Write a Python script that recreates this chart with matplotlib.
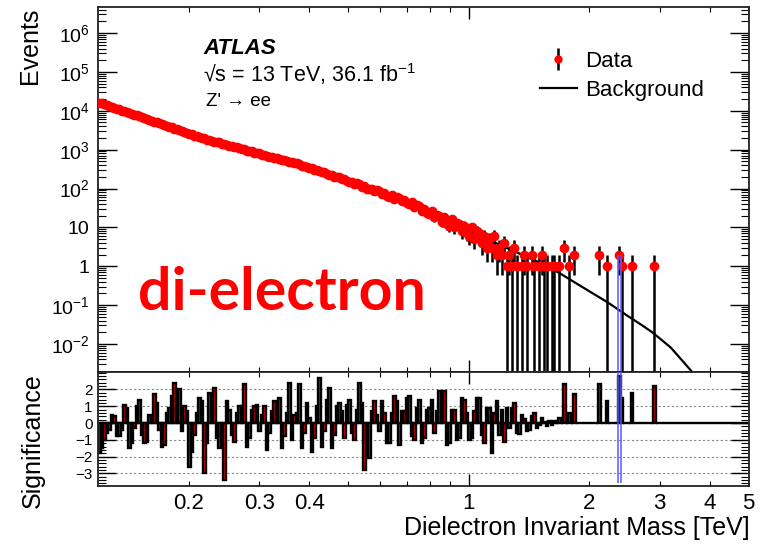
import numpy as np
import matplotlib
matplotlib.use("Agg")
import matplotlib.pyplot as plt
from matplotlib.ticker import FixedLocator, FixedFormatter, FuncFormatter, NullFormatter, LogLocator, AutoMinorLocator
from matplotlib.lines import Line2D

plt.rcParams['font.family'] = ['Liberation Sans', 'DejaVu Sans']
plt.rcParams['mathtext.fontset'] = 'custom'
plt.rcParams['mathtext.rm'] = 'Liberation Sans'
plt.rcParams['mathtext.it'] = 'Liberation Sans:italic'
plt.rcParams['mathtext.bf'] = 'Liberation Sans:bold'

# ---- histogram binning (constant width in log10 of the mass) ----
MASS_MIN_TEV = 0.1185
LOG_BIN_WIDTH = 0.00625
N_BINS = 260

# ---- observed events per bin ----
events = [
    16190, 15510, 14620, 14010,
    13180, 12660, 11890, 11410,
    10850, 10170, 9790, 9180,
    8720, 8410, 7860, 7590,
    7230, 6740, 6510, 6080,
    5790, 5600, 5210, 5050,
    4800, 4470, 4330, 4020,
    3830, 3720, 3450, 3360,
    3190, 2950, 2880, 2660,
    2530, 2480, 2280, 2230,
    2130, 1970, 1960, 1820,
    1730, 1710, 1590, 1580,
    1530, 1410, 1400, 1300,
    1250, 1250, 1160, 1150,
    1110, 1020, 1025, 945,
    915, 910, 840, 840,
    810, 745, 750, 690,
    665, 665, 610, 615,
    590, 545, 545, 500,
    482, 487, 446, 445,
    428, 390, 388, 350,
    340, 338, 305, 306,
    290, 260, 262, 233,
    224, 226, 200, 203,
    193, 171, 175, 154,
    147, 150, 131, 136,
    127, 111, 116, 100,
    96, 99, 85, 90,
    84, 72, 77, 65,
    62, 67, 55, 59,
    57, 47, 52, 42,
    39, 44, 33, 37,
    35, 27, 30, 23,
    22, 26, 18, 21,
    20, 14, 18, 12,
    11, 16, 10, 13,
    12, 8, 11, 7,
    6, 10, 5, 8,
    7, 4, 6, 3,
    5, 3, 6, 2,
    3, 2, 4, 1,
    2, 1, 3, 1,
    0, 1, 2, 1,
    0, 2, 1, 0,
    1, 2, 1, 1,
    0, 1, 1, 0,
    1, 0, 3, 0,
    1, 0, 2, 0,
    0, 0, 0, 0,
    0, 0, 0, 0,
    2, 0, 0, 1,
    0, 0, 0, 0,
    2, 1, 0, 0,
    0, 1, 0, 0,
    0, 0, 0, 0,
    0, 0, 1, 0,
    0, 0, 0, 0,
    0, 0, 0, 0,
    0, 0, 0, 0,
    0, 0, 0, 0,
    0, 0, 0, 0,
    0, 0, 0, 0,
    0, 0, 0, 0,
    0, 0, 0, 0,
    0, 0, 0, 0,
]

# ---- significance of data relative to background, per bin ----
significance = [
    -1.8, -1.5, -1.0, -0.6,
    -0.4, 0.5, 0.4, -0.8,
    -0.8, -0.4, 1.1, 0.9,
    -1.5, -1.2, -0.3, 1.0,
    1.4, -0.7, -1.2, -1.1,
    0.5, 0.4, 1.7, 1.2,
    -0.4, -1.4, -1.3, 0.6,
    0.9, 1.6, 2.4, 0.9,
    2.0, -0.5, 1.0, 0.7,
    -2.6, -1.7, -0.7, 0.6,
    1.5, 1.3, -3.0, -1.2,
    1.8, 0.7, 2.1, -0.9,
    -1.5, -1.0, -3.4, 1.3,
    0.8, -0.7, -1.1, 0.6,
    1.0, 1.0, 2.3, -1.4,
    -0.9, 0.8, 1.0, 1.1,
    -0.5, 0.5, 1.0, -1.6,
    -0.6, 0.7, 1.3, 0.9,
    1.5, -1.5, -0.8, 0.6,
    2.4, -1.0, 0.5, 0.6,
    2.3, -1.5, -0.6, 1.2,
    0.3, -1.7, -0.9, 1.0,
    2.7, -1.4, -0.5, 1.4,
    2.1, -1.5, -0.7, 1.0,
    1.2, 0.7, -0.9, 1.1,
    1.4, -0.6, -1.0, 0.8,
    2.4, 1.2, -2.8, -0.9,
    -2.1, 0.7, 1.3, 0.5,
    -0.5, 1.3, 0.6, -1.2,
    -1.2, 0.6, 1.6, 1.3,
    -1.3, 0.7, 0.7, 1.5,
    1.6, -0.8, -1.0, 0.9,
    1.4, -1.2, -0.9, 0.8,
    0.9, 1.4, -0.6, 0.7,
    1.9, 1.0, 1.9, -1.3,
    -1.2, 0.8, 0.8, -1.0,
    -0.9, 1.5, 1.4, 0.6,
    -1.0, -0.9, 0.7, 1.5,
    1.5, -0.7, -1.2, 0.9,
    0.9, -1.8, 0.6, 1.3,
    -0.7, 0.8, -1.1, 0.9,
    -0.3, 0.9, 1.2, -0.6,
    -0.65, 0.5, 0.25, -0.5,
    -0.4, 0.4, 0.6, -0.3,
    -0.1, 0.3, 0.05, -0.2,
    0.15, -0.1, 0.1, 0.05,
    0.3, 0, 2.3, 0,
    0.6, 0, 1.75, 0,
    0, 0, 0, 0,
    0, 0, 0, 0,
    2.3, 0, 0, 1.3,
    0, 0, 0, 0,
    2.8, 1.5, 0, 0,
    0, 1.8, 0, 0,
    0, 0, 0, 0,
    0, 0, 2.2, 0,
    0, 0, 0, 0,
    0, 0, 0, 0,
    0, 0, 0, 0,
    0, 0, 0, 0,
    0, 0, 0, 0,
    0, 0, 0, 0,
    0, 0, 0, 0,
    0, 0, 0, 0,
    0, 0, 0, 0,
]

# ---- background prediction (events per bin) ----
bkg_mass = [0.1185, 0.1217, 0.1623, 0.2164, 0.2886, 0.3849, 0.5133, 0.6846,
            0.9129, 1.217, 1.532, 1.69, 2.0, 2.22, 2.5, 2.7, 2.87, 3.0, 3.2,
            3.4, 3.6, 3.98]
bkg_events = [16600, 15136, 5433, 1950, 881, 398, 141, 50.1,
              12.6, 3.28, 1.15, 0.66, 0.229, 0.120, 0.0525, 0.0313, 0.0204,
              0.0141, 0.0081, 0.0040, 0.00204, 0.0005]

# highlighted mass window
window_mass = [2.366, 2.404]

x_major_ticks = [1.0]
x_minor_ticks = [0.2, 0.3, 0.4, 0.5, 0.6, 0.7, 0.8, 0.9, 2.0, 3.0, 4.0, 5.0]
x_tick_text = {0.2: '0.2', 0.3: '0.3', 0.4: '0.4', 1.0: '1', 2.0: '2', 3.0: '3', 4.0: '4', 5.0: '5'}
y_decades = [1e-2, 1e-1, 1, 10, 1e2, 1e3, 1e4, 1e5, 1e6]
y_decade_text = [r'$10^{-2}$', r'$10^{-1}$', '1', '10', r'$10^{2}$', r'$10^{3}$',
                 r'$10^{4}$', r'$10^{5}$', r'$10^{6}$']
sig_ticks = [-3, -2, -1, 0, 1, 2]

edges = MASS_MIN_TEV * 10 ** (LOG_BIN_WIDTH * np.arange(N_BINS + 1))
centers = np.sqrt(edges[:-1] * edges[1:])
events = np.asarray(events, dtype=float)
significance = np.asarray(significance, dtype=float)
assert len(events) == N_BINS and len(significance) == N_BINS

W, H = 768, 545
fig = plt.figure(figsize=(W / 100, H / 100), dpi=100)
L, R, T, MID, B = 98, 749, 7, 372, 486
ax = fig.add_axes([L / W, 1 - MID / H, (R - L) / W, (MID - T) / H])
ax2 = fig.add_axes([L / W, 1 - B / H, (R - L) / W, (B - MID) / H], sharex=ax)

# ---- upper panel: events ----
filled = events > 0
n = events[filled]
err_lo = n - np.maximum(n - np.sqrt(n), 1e-5)
err_hi = np.sqrt(n)
ax.plot(bkg_mass, bkg_events, color='black', lw=1.6, zorder=2)
ax.errorbar(centers[filled], n, yerr=[err_lo, err_hi], fmt='o', color='red',
            markersize=7, markeredgewidth=0, ecolor='black', elinewidth=1.8,
            capsize=0, zorder=3)
ax.vlines(window_mass, 1e-4, 1.9, color=(0.35, 0.35, 1.0), lw=1.1, zorder=4)

ax.set_xscale('log')
ax.set_yscale('log')
ax.set_xlim(MASS_MIN_TEV, 5.02)
ax.set_ylim(10 ** -2.72, 10 ** 6.67)

ax.yaxis.set_major_locator(FixedLocator(y_decades))
ax.yaxis.set_major_formatter(FixedFormatter(y_decade_text))
ax.yaxis.set_minor_locator(LogLocator(base=10, subs=np.arange(2, 10), numticks=30))
ax.yaxis.set_minor_formatter(NullFormatter())
ax.tick_params(axis='y', which='major', direction='in', length=14, width=1.0,
               left=True, right=True, labelsize=14, pad=6)
ax.tick_params(axis='y', which='minor', direction='in', length=6, width=0.8,
               left=True, right=True)

for a in (ax, ax2):
    a.xaxis.set_major_locator(FixedLocator(x_major_ticks))
    a.xaxis.set_minor_locator(FixedLocator(x_minor_ticks))
    a.tick_params(axis='x', which='major', direction='in', length=8.5, width=1.0,
                  top=True, bottom=True)
    a.tick_params(axis='x', which='minor', direction='in', length=3.6, width=0.8,
                  top=True, bottom=True)
    for s in a.spines.values():
        s.set_linewidth(1.3)
        s.set_color('#222222')

ax.tick_params(axis='x', which='both', labelbottom=False)

# text block
fig.text(203 / W, 1 - 48 / H, 'ATLAS', fontsize=16, fontweight='bold',
         fontstyle='italic', va='center', ha='left')
fig.text(203 / W, 1 - 74 / H, '\u221as = 13 TeV, 36.1 fb$^{-1}$', fontsize=15.5,
         va='center', ha='left')
fig.text(206 / W, 1 - 101 / H, "Z' \u2192 ee", fontsize=13.5, va='center', ha='left')

# legend
handles = [
    ax.errorbar([], [], yerr=[], fmt='o', color='red', markersize=6,
                markeredgewidth=0, ecolor='black', elinewidth=1.8, capsize=0),
    Line2D([], [], color='black', lw=1.6),
]
ax.legend(handles, ['Data', 'Background'], loc='upper left', frameon=False,
          bbox_to_anchor=(540 / W, 1 - 51 / H), bbox_transform=fig.transFigure,
          fontsize=16, handlelength=1.65, handletextpad=0.4, labelspacing=0.35,
          borderpad=0, borderaxespad=0)

fig.text(138 / W, 1 - 310 / H, 'di-electron', color='red', fontsize=42.5,
         fontweight='bold', family=['Lato', 'DejaVu Sans'], va='baseline', ha='left')

# ---- lower panel: significance ----
for yv in sig_ticks:
    ax2.axhline(yv, color='#888888', lw=0.8, ls=(0, (2, 2)), zorder=0)
ax2.bar(edges[:-1], significance, width=np.diff(edges), align='edge',
        color='red', edgecolor='black', linewidth=1.7, zorder=2)
ax2.vlines(window_mass, -3.55, 3.05, color=(0.35, 0.35, 1.0), lw=1.1, zorder=4)
ax2.set_ylim(-3.75, 3.04)
ax2.yaxis.set_major_locator(FixedLocator(sig_ticks))
ax2.yaxis.set_major_formatter(FuncFormatter(lambda v, p: ('\u2212%d' % -v) if v < 0 else '%d' % v))
ax2.yaxis.set_minor_locator(AutoMinorLocator(5))
ax2.tick_params(axis='y', which='major', direction='in', length=13, width=1.0,
                left=True, right=True, labelsize=11, pad=4)
ax2.tick_params(axis='y', which='minor', direction='in', length=6, width=0.8,
                left=True, right=True)


def mass_label(v, pos):
    for key, txt in x_tick_text.items():
        if abs(v - key) < 1e-6:
            return txt
    return ''


ax2.xaxis.set_major_formatter(FuncFormatter(mass_label))
ax2.xaxis.set_minor_formatter(FuncFormatter(mass_label))
ax2.tick_params(axis='x', which='both', labelsize=16, pad=5)

fig.text(750 / W, 1 - 535 / H, 'Dielectron Invariant Mass [TeV]', fontsize=18,
         ha='right', va='baseline')
fig.text(30 / W, 1 - 8 / H, 'Events', fontsize=18, rotation=90, ha='center', va='top')
fig.text(33 / W, 1 - 373 / H, 'Significance', fontsize=18, rotation=90, ha='center', va='top')

fig.savefig('out.png', dpi=100)
